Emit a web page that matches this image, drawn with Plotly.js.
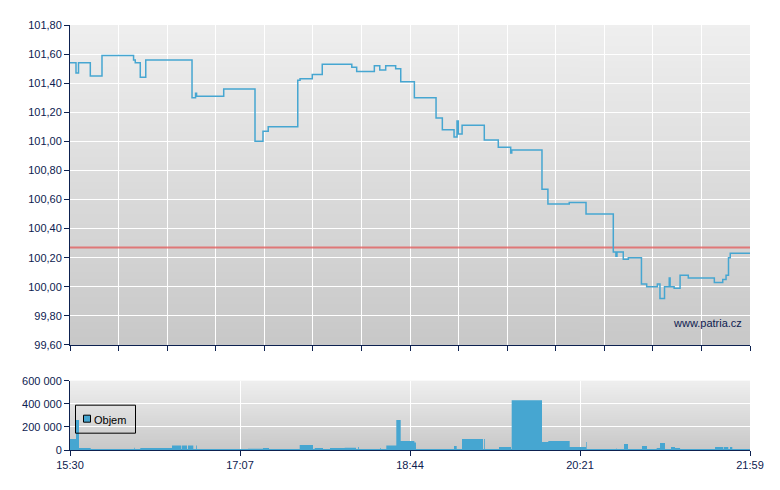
<!DOCTYPE html>
<html><head><meta charset="utf-8">
<script src="https://cdn.plot.ly/plotly-3.0.1.min.js"></script>
<style>html,body{margin:0;padding:0;background:#fff}#chart{width:780px;height:490px}</style>
</head><body><div id="chart"></div>
<script>
// ---- data ----
const sessionStart = "15:30:00";
const sessionEnd = "21:59:00";
const timeLabels = ["15:30", "17:07", "18:44", "20:21", "21:59"];
const priceTicks = [99.6, 99.8, 100.0, 100.2, 100.4, 100.6, 100.8, 101.0, 101.2, 101.4, 101.6, 101.8];
const volumeTicks = [0, 200000, 400000, 600000];
const prevClose = 100.27;
const watermark = "www.patria.cz";
const volumeName = "Objem";

const priceTime = ["15:30:00","15:33:26","15:34:52","15:41:37","15:48:18","16:06:22","16:07:20","16:10:12","16:13:20","16:39:48","16:41:50","16:42:24","16:57:56","17:15:50","17:20:24","17:23:24","17:40:18","17:41:36","17:48:36","17:54:18","18:11:12","18:14:00","18:24:06","18:27:12","18:30:36","18:36:18","18:39:12","18:47:00","18:59:24","19:03:00","19:09:42","19:11:24","19:12:06","19:14:18","19:27:00","19:35:00","19:42:06","19:42:42","20:00:00","20:03:24","20:15:36","20:25:12","20:40:48","20:42:18","20:42:54","20:46:30","20:49:24","20:56:54","20:59:54","21:06:00","21:07:30","21:10:06","21:12:48","21:13:18","21:15:36","21:19:00","21:23:42","21:38:36","21:43:24","21:45:18","21:46:42","21:47:42","21:59:00"];
const priceValue = [101.54,101.47,101.54,101.45,101.59,101.56,101.54,101.44,101.56,101.30,101.33,101.31,101.36,101.00,101.07,101.10,101.42,101.43,101.46,101.53,101.51,101.48,101.52,101.49,101.52,101.50,101.41,101.30,101.16,101.08,101.03,101.14,101.05,101.11,101.01,100.96,100.92,100.94,100.67,100.57,100.58,100.50,100.24,100.21,100.24,100.19,100.20,100.02,100.00,100.02,99.92,100.00,100.06,100.00,99.99,100.08,100.06,100.03,100.05,100.08,100.20,100.23,100.23];

const volumeTime = ["15:30:00","15:33:26","15:35:09","15:41:50","16:06:37","16:07:00","16:10:13","16:28:21","16:33:40","16:34:04","16:36:56","16:37:30","16:40:32","16:42:04","16:42:32","17:11:50","17:20:24","17:23:50","17:41:24","17:49:01","17:50:00","17:54:44","17:58:44","18:07:09","18:13:37","18:14:45","18:15:13","18:27:20","18:27:44","18:30:57","18:36:40","18:39:11","18:47:00","18:47:55","19:09:40","19:11:13","19:14:15","19:26:16","19:26:50","19:27:17","19:35:25","19:42:17","19:42:40","20:00:01","20:03:37","20:15:51","20:25:10","20:25:34","20:42:20","20:42:44","20:46:56","20:49:13","20:57:13","21:00:04","21:05:37","21:07:31","21:10:23","21:13:48","21:16:06","21:19:00","21:39:00","21:43:44","21:44:08","21:46:34","21:47:34","21:48:52","21:59:00"];
const volumeValue = [95000,260000,18000,8000,20000,8000,17000,38000,8000,38000,8000,38000,8000,38000,8000,11000,17000,8000,43000,8000,17000,8000,17000,20000,8000,25000,8000,17000,8000,38000,260000,78000,64000,8000,35000,8000,95000,8000,95000,8000,26000,8000,430000,70000,78000,26000,70000,8000,12000,8000,52000,8000,35000,8000,17000,61000,8000,26000,17000,8000,26000,8000,26000,8000,26000,8000,8000];

// ---- helpers ----
function toMin(s){const p=s.split(':').map(Number);return p[0]*60+p[1]+(p[2]||0)/60;}
const t0 = toMin(sessionStart);
const span = toMin(sessionEnd) - t0;
const priceX = priceTime.map(s => toMin(s) - t0);
const volumeX = volumeTime.map(s => toMin(s) - t0);

const navy = '#0d2150';
const blue = '#46a6d1';
const font = {family: '"Liberation Sans", Arial, sans-serif', size: 11, color: navy};

function gradientImage(){
  const c = document.createElement('canvas'); c.width = 2; c.height = 256;
  const g = c.getContext('2d');
  const gr = g.createLinearGradient(0, 0, 0, 256);
  gr.addColorStop(0, '#efefef'); gr.addColorStop(1, '#c8c8c8');
  g.fillStyle = gr; g.fillRect(0, 0, 2, 256);
  return c.toDataURL();
}
const bg = gradientImage();

const topDomain = [0.2471, 1];
const botDomain = [0, 0.1631];

const topTicks = Array.from({length: 15}, (_, i) => i * span / 14);
const botTicks = timeLabels.map((_, i) => i * span / (timeLabels.length - 1));

const traces = [
  {x: [priceX[0], priceX[priceX.length-1]], y: [prevClose, prevClose], mode: 'lines',
   line: {color: 'rgba(226,96,96,0.8)', width: 2}, xaxis: 'x', yaxis: 'y', hoverinfo: 'skip', showlegend: false},
  {x: priceX, y: priceValue, mode: 'lines', line: {color: blue, width: 1.5, shape: 'hv'},
   xaxis: 'x', yaxis: 'y', showlegend: false},
  {x: volumeX, y: volumeValue, mode: 'lines', line: {color: blue, width: 0, shape: 'hv'},
   fill: 'tozeroy', fillcolor: blue, xaxis: 'x2', yaxis: 'y2', name: volumeName, showlegend: false}
];

const axisCommon = {showline: true, linecolor: navy, linewidth: 1, ticks: 'outside', ticklen: 5,
  tickcolor: navy, gridcolor: '#ffffff', gridwidth: 1, zeroline: false, tickfont: font, fixedrange: true};

const layout = {
  width: 780, height: 490,
  margin: {l: 70, r: 30, t: 25, b: 40},
  paper_bgcolor: '#ffffff', plot_bgcolor: 'rgba(0,0,0,0)',
  separators: ', ',
  font: font,
  showlegend: false,
  xaxis: Object.assign({}, axisCommon, {domain: [0, 1], anchor: 'y', range: [0, span],
    tickmode: 'array', tickvals: topTicks, showticklabels: false}),
  yaxis: Object.assign({}, axisCommon, {domain: topDomain, anchor: 'x', range: [priceTicks[0], priceTicks[priceTicks.length-1]],
    tickmode: 'array', tickvals: priceTicks, tickformat: '.2f'}),
  xaxis2: Object.assign({}, axisCommon, {domain: [0, 1], anchor: 'y2', range: [0, span],
    tickmode: 'array', tickvals: botTicks, ticktext: timeLabels}),
  yaxis2: Object.assign({}, axisCommon, {domain: botDomain, anchor: 'x2', range: [volumeTicks[0], volumeTicks[volumeTicks.length-1]],
    tickmode: 'array', tickvals: volumeTicks, tickformat: ',.0f'}),
  images: [
    {source: bg, xref: 'paper', yref: 'paper', x: 0, y: topDomain[1], sizex: 1, sizey: topDomain[1]-topDomain[0],
     xanchor: 'left', yanchor: 'top', sizing: 'stretch', layer: 'below'},
    {source: bg, xref: 'paper', yref: 'paper', x: 0, y: botDomain[1], sizex: 1, sizey: botDomain[1]-botDomain[0],
     xanchor: 'left', yanchor: 'top', sizing: 'stretch', layer: 'below'}
  ],
  shapes: [
    {type: 'rect', xref: 'paper', yref: 'paper', xsizemode: 'pixel', ysizemode: 'pixel',
     xanchor: 0, yanchor: botDomain[1], x0: 5.5, x1: 65.5, y0: -24.5, y1: -52.5,
     line: {color: '#000000', width: 1}, fillcolor: 'rgba(0,0,0,0)'},
    {type: 'rect', xref: 'paper', yref: 'paper', xsizemode: 'pixel', ysizemode: 'pixel',
     xanchor: 0, yanchor: botDomain[1], x0: 13.5, x1: 20.5, y0: -34.5, y1: -41.5,
     line: {color: '#000000', width: 1}, fillcolor: blue}
  ],
  annotations: [
    {xref: 'paper', yref: 'paper', x: 0, y: botDomain[1], xshift: 22, yshift: -39, xanchor: 'left', yanchor: 'middle',
     text: volumeName, showarrow: false, font: {family: font.family, size: 11, color: '#000000'}},
    {xref: 'paper', yref: 'paper', x: 1, y: topDomain[0], xshift: -6, yshift: 22, xanchor: 'right', yanchor: 'middle',
     text: watermark, showarrow: false, font: font}
  ]
};

Plotly.newPlot('chart', traces, layout, {staticPlot: true, displayModeBar: false});
</script>
</body></html>
